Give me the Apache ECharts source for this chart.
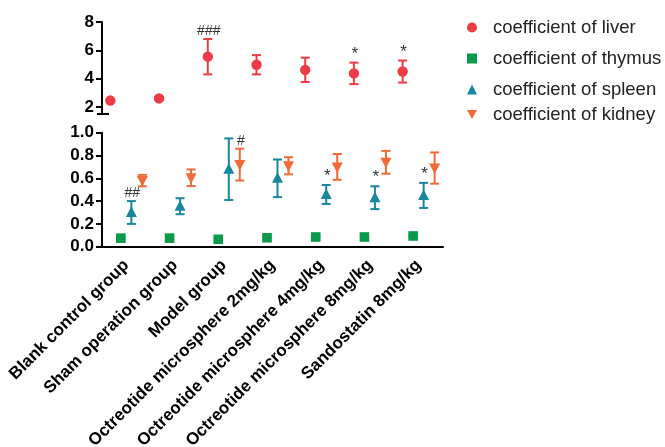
<!DOCTYPE html>
<html><head><meta charset="utf-8">
<script src="https://cdn.jsdelivr.net/npm/echarts@6/dist/echarts.min.js"></script>
<style>html,body{margin:0;padding:0;background:#fff}#c{width:665px;height:447px}</style>
</head><body><div id="c"></div>
<script>
const categories = ['Blank control group','Sham operation group','Model group','Octreotide microsphere 2mg/kg','Octreotide microsphere 4mg/kg','Octreotide microsphere 8mg/kg','Sandostatin 8mg/kg'];
const liverMean = [2.45, 2.6, 5.55, 4.98, 4.62, 4.37, 4.5];
const liverErr  = [0.05, 0.12, 1.25, 0.68, 0.86, 0.76, 0.78];
const liverNote = ['', '', '###', '', '', '*', '*'];
const thymusMean = [0.075, 0.075, 0.065, 0.078, 0.085, 0.085, 0.094];
const thymusErr  = [0.01, 0.01, 0.01, 0.01, 0.01, 0.01, 0.01];
const thymusNote = ['', '', '', '', '', '', ''];
const spleenMean = [0.30, 0.355, 0.68, 0.60, 0.458, 0.43, 0.45];
const spleenErr  = [0.10, 0.07, 0.27, 0.165, 0.083, 0.10, 0.11];
const spleenNote = ['##', '', '', '', '*', '*', '*'];
const kidneyMean = [0.58, 0.605, 0.72, 0.71, 0.70, 0.74, 0.69];
const kidneyErr  = [0.05, 0.073, 0.14, 0.075, 0.113, 0.10, 0.137];
const kidneyNote = ['', '', '#', '', '', '', ''];
const topTicks = [2, 4, 6, 8];
const bottomTicks = [0, 0.2, 0.4, 0.6, 0.8, 1.0];

const colors = {liver:'#EF3B45', thymus:'#0A9A4C', spleen:'#17869F', kidney:'#F26A35'};
const FONT = 'Liberation Sans, Arial, sans-serif';

function markerShape(shape, x, y, color){
  if (shape === 'circle') return {type:'circle', shape:{cx:x, cy:y, r:5.2}, style:{fill:color}};
  if (shape === 'rect') return {type:'rect', shape:{x:x-4.8, y:y-4.8, width:9.6, height:9.6}, style:{fill:color}};
  if (shape === 'up') return {type:'polygon', shape:{points:[[x,y-6],[x+5.5,y+4.5],[x-5.5,y+4.5]]}, style:{fill:color}};
  return {type:'polygon', shape:{points:[[x,y+6],[x+5.5,y-4.5],[x-5.5,y-4.5]]}, style:{fill:color}};
}

function makeRender(shape, dx, color, notes){
  return function(params, api){
    const i = api.value(0), m = api.value(1), e = api.value(2);
    const c = api.coord([i, m]);
    const hi = api.coord([i, m + e]);
    const lo = api.coord([i, m - e]);
    const x = c[0] + dx;
    const cap = 4.5;
    const st = {stroke: color, lineWidth: 2};
    const children = [
      {type:'line', shape:{x1:x, y1:hi[1], x2:x, y2:lo[1]}, style:st},
      {type:'line', shape:{x1:x-cap, y1:hi[1], x2:x+cap, y2:hi[1]}, style:st},
      {type:'line', shape:{x1:x-cap, y1:lo[1], x2:x+cap, y2:lo[1]}, style:st},
      markerShape(shape, x, c[1], color)
    ];
    const note = notes[params.dataIndex];
    if (note) {
      const star = note === '*';
      children.push({type:'text', style:{text:note, x:x+1, y:hi[1] - (star ? 0 : 1), align:'center', verticalAlign:'bottom',
        fill:'#333', font:(star ? '17px ' : '14px ') + FONT}});
    }
    return {type:'group', children};
  };
}

function seriesData(mean, err){ return mean.map((v, i) => [i, v, err[i]]); }

const series = [
  {name:'coefficient of liver', type:'custom', xAxisIndex:0, yAxisIndex:0, itemStyle:{color:colors.liver},
   renderItem: makeRender('circle', -16, colors.liver, liverNote), data: seriesData(liverMean, liverErr), encode:{x:0, y:[1]}},
  {name:'coefficient of thymus', type:'custom', xAxisIndex:1, yAxisIndex:1, itemStyle:{color:colors.thymus},
   renderItem: makeRender('rect', -5.5, colors.thymus, thymusNote), data: seriesData(thymusMean, thymusErr), encode:{x:0, y:[1]}},
  {name:'coefficient of spleen', type:'custom', xAxisIndex:1, yAxisIndex:1, itemStyle:{color:colors.spleen},
   renderItem: makeRender('up', 5, colors.spleen, spleenNote), data: seriesData(spleenMean, spleenErr), encode:{x:0, y:[1]}},
  {name:'coefficient of kidney', type:'custom', xAxisIndex:1, yAxisIndex:1, itemStyle:{color:colors.kidney},
   renderItem: makeRender('down', 16, colors.kidney, kidneyNote), data: seriesData(kidneyMean, kidneyErr), encode:{x:0, y:[1]}}
];

const legendRows = [
  {name:'coefficient of liver', icon:'circle', top:13},
  {name:'coefficient of thymus', icon:'rect', top:44},
  {name:'coefficient of spleen', icon:'triangle', top:75},
  {name:'coefficient of kidney', icon:'path://M0,0 L10,0 L5,9 Z', top:100}
];

const axisLineStyle = {color:'#000', width:2};
const chart = echarts.init(document.getElementById('c'));
chart.setOption({
  animation:false,
  backgroundColor:'#fff',
  legend: legendRows.map(r => ({
    data:[{name:r.name, icon:r.icon}], left:462, top:r.top, itemWidth:10, itemHeight:10,
    selectedMode:false, textStyle:{fontSize:18.5, fontFamily:FONT, color:'#222', padding:[0,0,0,11]}
  })),
  grid:[
    {left:102, top:22, width:341, height:92, containLabel:false, outerBoundsMode:'none'},
    {left:102, top:132.7, width:341, height:114, containLabel:false, outerBoundsMode:'none'}
  ],
  xAxis:[
    {type:'category', gridIndex:0, data:categories, show:false},
    {type:'category', gridIndex:1, data:categories,
     axisLine:{lineStyle:axisLineStyle}, axisTick:{alignWithLabel:true, length:6, lineStyle:{width:2, color:'#000'}},
     axisLabel:{interval:0, rotate:45, margin:16, color:'#000', fontWeight:'bold', fontSize:17, fontFamily:FONT}}
  ],
  yAxis:[
    {type:'value', gridIndex:0, min:1.5, max:8, splitLine:{show:false},
     axisLine:{show:true, lineStyle:axisLineStyle},
     axisTick:{show:true, length:6, lineStyle:{width:2, color:'#000'}, customValues:topTicks},
     axisLabel:{color:'#000', fontWeight:'bold', fontSize:17, fontFamily:FONT, margin:8, customValues:topTicks}},
    {type:'value', gridIndex:1, min:0, max:1, interval:0.2, splitLine:{show:false},
     axisLine:{show:true, lineStyle:axisLineStyle},
     axisTick:{show:true, length:6, lineStyle:{width:2, color:'#000'}, customValues:bottomTicks},
     axisLabel:{color:'#000', fontWeight:'bold', fontSize:17, fontFamily:FONT, margin:8, customValues:bottomTicks,
       formatter: v => v.toFixed(1)}}
  ],
  series
});

// axis-break stub at the bottom end of the upper axis
const p = chart.convertToPixel({yAxisIndex:0}, 1.5);
chart.setOption({graphic:[{type:'line', shape:{x1:97, y1:p, x2:109, y2:p}, style:{stroke:'#000', lineWidth:2}}]});
</script></body></html>
